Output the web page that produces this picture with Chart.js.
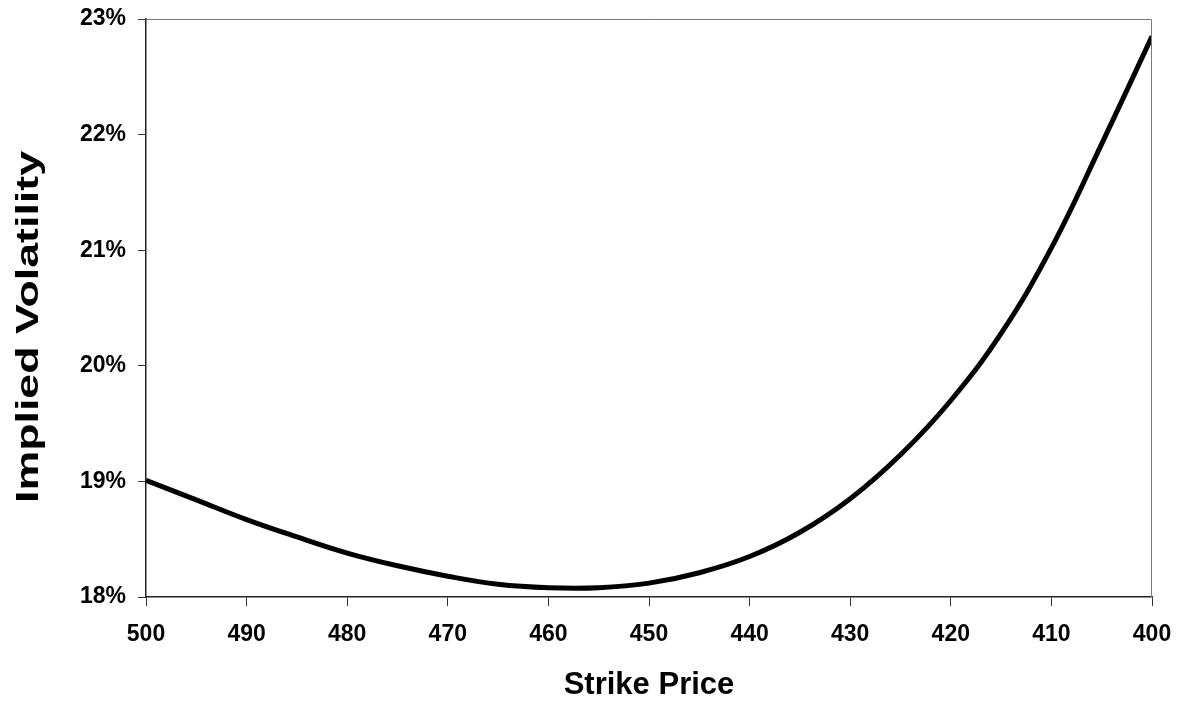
<!DOCTYPE html>
<html>
<head>
<meta charset="utf-8">
<script src="https://cdn.jsdelivr.net/npm/chart.js@4"></script>
<style>
    html, body { margin: 0; padding: 0; background: #fff; }
    #wrap { width: 1188px; height: 705px; }
</style>
</head>
<body>
<div id="wrap"><canvas id="volChart"></canvas></div>
<script>
// strike prices and implied vol (%)
const strikes = [500, 495, 490, 485, 480, 475, 470, 465, 460, 455, 450, 445, 440, 435, 430, 425, 420, 415, 410, 405, 400];
const vols = [19.01, 18.84, 18.67, 18.52, 18.38, 18.27, 18.18, 18.11, 18.08, 18.08, 18.12, 18.21, 18.35, 18.56, 18.85, 19.23, 19.70, 20.28, 21.02, 21.92, 22.85];
const xTitle = 'Strike Price';
const yTitle = 'Implied Volatility';

const FONT = '"Liberation Sans", Arial, sans-serif';

// gray top/right frame + stretched y title, like the original
const frame = {
    id: 'frame',
    afterDraw(chart) {
        const { ctx, chartArea: a } = chart;
        ctx.save();
        ctx.strokeStyle = '#7a7a7a';
        ctx.lineWidth = 1;
        ctx.beginPath();
        ctx.moveTo(a.left, a.top + 0.5);
        ctx.lineTo(a.right - 0.5, a.top + 0.5);
        ctx.lineTo(a.right - 0.5, a.bottom);
        ctx.stroke();

        ctx.translate(29, 327);
        ctx.rotate(-Math.PI / 2);
        ctx.font = 'bold 31px ' + FONT;
        const w = ctx.measureText(yTitle).width;
        ctx.scale(352 / w, 1);
        ctx.fillStyle = '#000';
        ctx.textAlign = 'center';
        ctx.textBaseline = 'middle';
        ctx.fillText(yTitle, 0, 0);
        ctx.restore();
    }
};

new Chart(document.getElementById('volChart'), {
    type: 'line',
    data: {
        datasets: [{
            data: strikes.map((s, i) => ({ x: s, y: vols[i] })),
            borderColor: '#000',
            borderWidth: 5,
            pointRadius: 0,
            tension: 0.4,
            fill: false
        }]
    },
    options: {
        responsive: true,
        maintainAspectRatio: false,
        animation: false,
        layout: { padding: { left: 0, right: 36, top: 19, bottom: 0 } },
        plugins: { legend: { display: false }, tooltip: { enabled: false } },
        scales: {
            x: {
                type: 'linear',
                reverse: true,
                min: 400,
                max: 500,
                ticks: {
                    stepSize: 10,
                    color: '#000',
                    padding: 15,
                    maxRotation: 0,
                    font: { family: FONT, size: 23, weight: 'bold' }
                },
                grid: { drawOnChartArea: false, tickLength: 9, color: '#333' },
                border: { color: '#222', width: 1.5 },
                title: {
                    display: true,
                    text: xTitle,
                    color: '#000',
                    padding: { top: 0, bottom: 1 },
                    font: { family: FONT, size: 31, weight: 'bold' }
                },
                afterFit(scale) {
                    scale.height = 108;
                    scale.paddingLeft = 0;
                    scale.paddingRight = 0;
                }
            },
            y: {
                min: 18,
                max: 23,
                ticks: {
                    stepSize: 1,
                    color: '#000',
                    padding: 12,
                    callback: v => v + '%',
                    font: { family: FONT, size: 23, weight: 'bold' }
                },
                grid: { drawOnChartArea: false, tickLength: 8, color: '#333' },
                border: { color: '#222', width: 1.5 },
                afterFit(scale) {
                    scale.width = 146;
                    scale.paddingTop = 0;
                    scale.paddingBottom = 0;
                }
            }
        }
    },
    plugins: [frame]
});
</script>
</body>
</html>
